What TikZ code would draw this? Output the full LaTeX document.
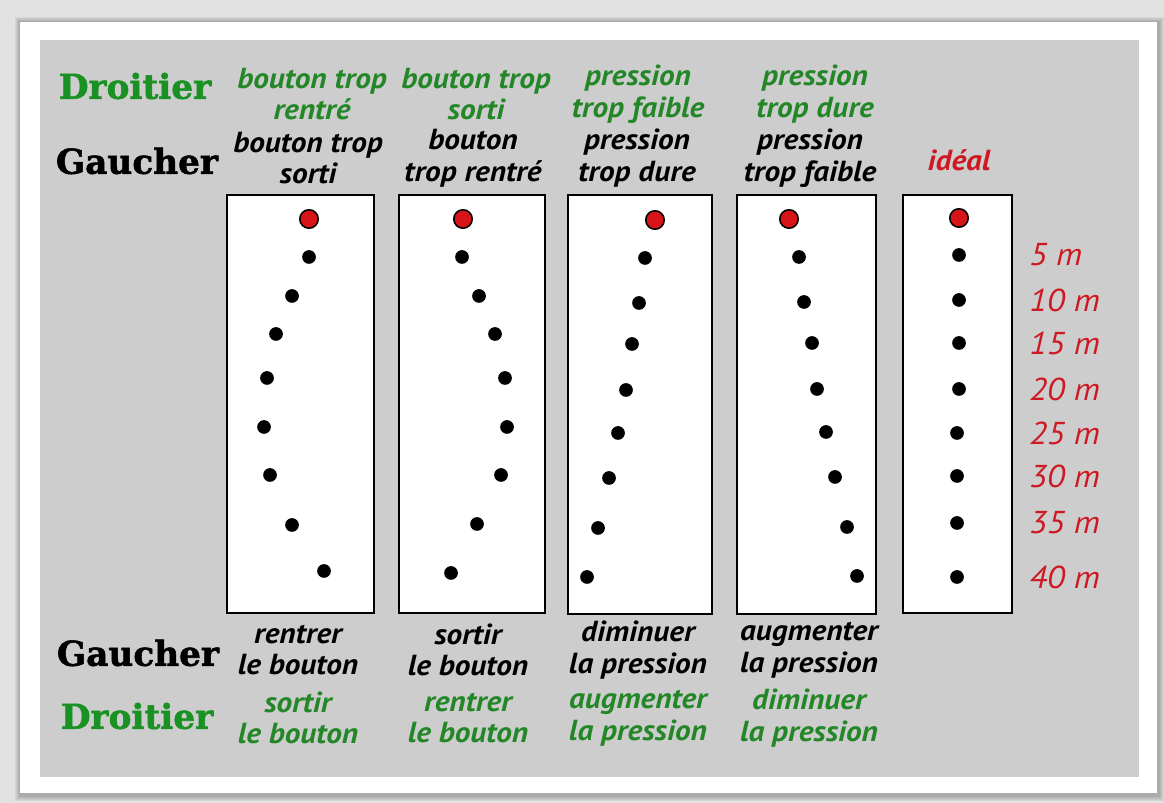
\documentclass[tikz,border=0pt]{standalone}
\usepackage{fontspec}
\newfontfamily\headfont{DejaVu Serif}[BoldFeatures={FakeBold=1.6}]
\newfontfamily\handfont{PT Sans}[FakeStretch=1.08]

\definecolor{handgreen}{RGB}{35,135,40}
\definecolor{headgreen}{RGB}{25,145,35}
\definecolor{markred}{RGB}{205,25,35}
\definecolor{shotred}{RGB}{215,20,25}
\definecolor{panelgray}{RGB}{205,205,205}
\definecolor{outergray}{RGB}{226,226,226}

\tikzset{
    target/.style={draw=black, line width=1.1pt, fill=white},
    shot/.style={circle, fill=black, inner sep=0pt, minimum size=7.8pt},
    firstshot/.style={circle, draw=black, line width=0.9pt, fill=shotred, inner sep=0pt, minimum size=10.5pt},
    hand/.style={align=center, inner sep=0pt, font=\handfont\bfseries\itshape\fontsize{16.5}{18}\selectfont},
    who/.style={inner sep=0pt, font=\headfont\bfseries\fontsize{19.5}{22}\selectfont},
    dist/.style={anchor=west, inner sep=0pt, text=markred, font=\handfont\itshape\fontsize{18}{20}\selectfont}
}

\begin{document}
\begin{tikzpicture}[x=0.02cm, y=-0.02cm]
    \useasboundingbox (0,0) rectangle (1164,803);

    % Frame and panel
    \fill[outergray] (0,0) rectangle (1164,803);
    \foreach \s in {1,...,5}
        \fill[black, opacity=0.05] (20-\s,22-\s) rectangle (1159+\s,796+\s);
    \fill[white] (20,22) rectangle (1157,793);
    \fill[panelgray] (40,40) rectangle (1139,777);

    % Targets
    \draw[target] (227,195) rectangle (374,613);
    \draw[target] (399,195) rectangle (545,613);
    \draw[target] (568,195) rectangle (712,614);
    \draw[target] (737,195) rectangle (876,614);
    \draw[target] (903,195) rectangle (1012,613);

    % Row labels
    \node[who, text=headgreen] (droitTop) at (135,86) {Droitier};
    \node[who] (gauchTop) at (137,161) {Gaucher};
    \node[who] (gauchBot) at (138,653) {Gaucher};
    \node[who, text=headgreen] (droitBot) at (137,716) {Droitier};

    % Faults above the targets
    \node[hand, text=handgreen] (faultD1) at (312,94) {bouton trop\\rentré};
    \node[hand] (faultG1) at (308,158) {bouton trop\\sorti};
    \node[hand, text=handgreen] (faultD2) at (476,94) {bouton trop\\sorti};
    \node[hand] (faultG2) at (473,158) {bouton\\trop rentré};
    \node[hand, text=handgreen] (faultD3) at (638,94) {pression\\trop faible};
    \node[hand] (faultG3) at (637,158) {pression\\trop dure};
    \node[hand, text=handgreen] (faultD4) at (815,94) {pression\\trop dure};
    \node[hand] (faultG4) at (810,158) {pression\\trop faible};
    \node[hand, text=markred] (ideal) at (959,160) {idéal};

    % Fixes below the targets
    \node[hand] (fixG1) at (298,650) {rentrer\\le bouton};
    \node[hand, text=handgreen] (fixD1) at (298,718) {sortir\\le bouton};
    \node[hand] (fixG2) at (468,650) {sortir\\le bouton};
    \node[hand, text=handgreen] (fixD2) at (468,718) {rentrer\\le bouton};
    \node[hand] (fixG3) at (638,650) {diminuer\\la pression};
    \node[hand, text=handgreen] (fixD3) at (638,718) {augmenter\\la pression};
    \node[hand] (fixG4) at (809,650) {augmenter\\la pression};
    \node[hand, text=handgreen] (fixD4) at (809,718) {diminuer\\la pression};

    % Shots, column by column
    \node[firstshot] (a0) at (309,219) {};
    \foreach \x/\y [count=\i] in {309/257, 292/296, 276/334, 267/378, 264/427, 270/475, 292/525, 324/571}
        \node[shot] (a\i) at (\x,\y) {};
    \node[firstshot] (b0) at (463,219) {};
    \foreach \x/\y [count=\i] in {462/257, 479/296, 495/334, 505/378, 507/427, 501/475, 477/524, 451/573}
        \node[shot] (b\i) at (\x,\y) {};
    \node[firstshot] (c0) at (655,220) {};
    \foreach \x/\y [count=\i] in {645/258, 639/303, 632/344, 626/390, 618/433, 609/478, 598/528, 587/577}
        \node[shot] (c\i) at (\x,\y) {};
    \node[firstshot] (d0) at (789,219) {};
    \foreach \x/\y [count=\i] in {799/257, 804/302, 812/343, 817/389, 826/432, 835/477, 847/527, 857/576}
        \node[shot] (d\i) at (\x,\y) {};
    \node[firstshot] (e0) at (959,218) {};
    \foreach \x/\y [count=\i] in {959/255, 959/300, 959/343, 959/389, 957/433, 957/476, 957/523, 957/577}
        \node[shot] (e\i) at (\x,\y) {};

    % Distances
    \foreach \d/\y in {5/255, 10/300, 15/343, 20/389, 25/433, 30/476, 35/523, 40/577}
        \node[dist] (m\d) at (1029,\y) {\d~m};
\end{tikzpicture}
\end{document}
